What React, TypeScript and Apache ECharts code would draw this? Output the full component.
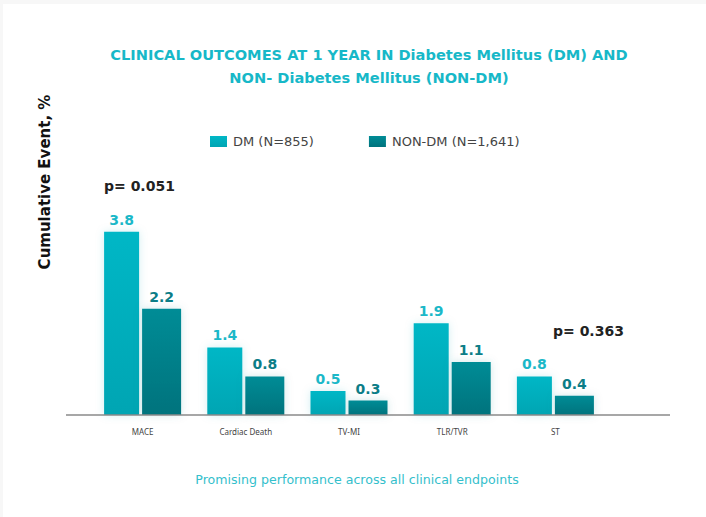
import React, { useEffect, useRef } from "react";
import * as echarts from "echarts";

const categories = ["MACE", "Cardiac Death", "TV-MI", "TLR/TVR", "ST"];
const dmValues = [3.8, 1.4, 0.5, 1.9, 0.8];
const nonDmValues = [2.2, 0.8, 0.3, 1.1, 0.4];
const seriesNames = ["DM (N=855)", "NON-DM (N=1,641)"];
const pLabels = ["p= 0.051", "p= 0.363"];

const FONT = "'DejaVu Sans', 'Noto Sans', sans-serif";
const NOTO = "'Noto Sans', 'DejaVu Sans', sans-serif";

export default function App() {
  const ref = useRef<HTMLDivElement>(null);
  useEffect(() => {
    if (!ref.current) return;
    const chart = echarts.init(ref.current, undefined, { renderer: "svg" });
    const dmColor = new echarts.graphic.LinearGradient(0, 0, 0, 1, [
      { offset: 0, color: "#00b7c6" },
      { offset: 1, color: "#00a5b3" },
    ]);
    const nonColor = new echarts.graphic.LinearGradient(0, 0, 0, 1, [
      { offset: 0, color: "#008c96" },
      { offset: 1, color: "#00737d" },
    ]);
    chart.setOption({
      animation: false,
      backgroundColor: "#ffffff",
      title: {
        text: "CLINICAL OUTCOMES AT 1 YEAR IN Diabetes Mellitus (DM) AND\nNON- Diabetes Mellitus (NON-DM)",
        left: 364,
        top: 38,
        textAlign: "center",
        textStyle: {
          color: "#17b8c8",
          fontSize: 14.6,
          fontWeight: "bold",
          fontFamily: FONT,
          lineHeight: 23,
        },
      },
      legend: {
        left: 205,
        top: 130,
        itemWidth: 17,
        itemHeight: 11,
        itemGap: 55,
        icon: "rect",
        textStyle: { color: "#444", fontSize: 13, fontFamily: FONT, padding: [0, 0, 0, 1] },
        data: seriesNames,
      },
      grid: { left: 91, right: 99, top: 222, bottom: 102, containLabel: false },
      xAxis: {
        type: "category",
        data: categories,
        axisLine: { show: false },
        axisTick: { show: false },
        axisLabel: { color: "#444", fontSize: 8, fontFamily: NOTO, margin: 12 },
      },
      yAxis: {
        type: "value",
        min: 0,
        max: 4,
        show: true,
        axisLine: { show: false },
        axisTick: { show: false },
        axisLabel: { show: false },
        splitLine: { show: false },
      },
      graphic: [
        {
          type: "rect",
          shape: { x: 0, y: 0, width: 706, height: 517 },
          style: { fill: "#f7f7f7" },
          z: -10,
          silent: true,
        },
        {
          type: "rect",
          shape: { x: 3, y: 4, width: 703, height: 513 },
          style: { fill: "#ffffff" },
          z: -9,
          silent: true,
        },
        {
          type: "line",
          shape: { x1: 66, y1: 415, x2: 670, y2: 415 },
          style: { stroke: "#8a8a8a", lineWidth: 1.5 },
          z: 10,
        },
        {
          type: "text",
          x: 45,
          y: 182,
          rotation: Math.PI / 2,
          style: {
            text: "Cumulative Event, %",
            fill: "#111",
            font: `bold 15px ${FONT}`,
            textAlign: "center",
            textVerticalAlign: "middle",
          },
        },
        {
          type: "text",
          x: 104,
          y: 186,
          style: {
            text: pLabels[0],
            fill: "#222",
            font: `bold 14px ${FONT}`,
            textAlign: "left",
            textVerticalAlign: "middle",
          },
        },
        {
          type: "text",
          x: 553,
          y: 331,
          style: {
            text: pLabels[1],
            fill: "#222",
            font: `bold 14px ${FONT}`,
            textAlign: "left",
            textVerticalAlign: "middle",
          },
        },
        {
          type: "text",
          x: 357,
          y: 479,
          style: {
            text: "Promising performance across all clinical endpoints",
            fill: "#35c0cc",
            font: `12.6px ${FONT}`,
            textAlign: "center",
            textVerticalAlign: "middle",
          },
        },
      ],
      series: [
        {
          name: seriesNames[0],
          type: "bar",
          data: dmValues,
          barWidth: 35,
          barGap: "8.6%",
          itemStyle: {
            color: dmColor,
            shadowBlur: 8,
            shadowColor: "rgba(0,160,175,0.18)",
          },
          label: {
            show: true,
            position: "top",
            distance: 5,
            color: "#1bb8c8",
            fontSize: 14,
            fontWeight: "bold",
            fontFamily: FONT,
          },
        },
        {
          name: seriesNames[1],
          type: "bar",
          data: nonDmValues,
          barWidth: 39,
          itemStyle: {
            color: nonColor,
            shadowBlur: 8,
            shadowColor: "rgba(0,120,130,0.18)",
          },
          label: {
            show: true,
            position: "top",
            distance: 5,
            color: "#0c7d87",
            fontSize: 14,
            fontWeight: "bold",
            fontFamily: FONT,
          },
        },
      ],
    });
    return () => chart.dispose();
  }, []);
  return (
    <div
      ref={ref}
      style={{ position: "fixed", left: 0, top: 0, width: 706, height: 517 }}
    />
  );
}
